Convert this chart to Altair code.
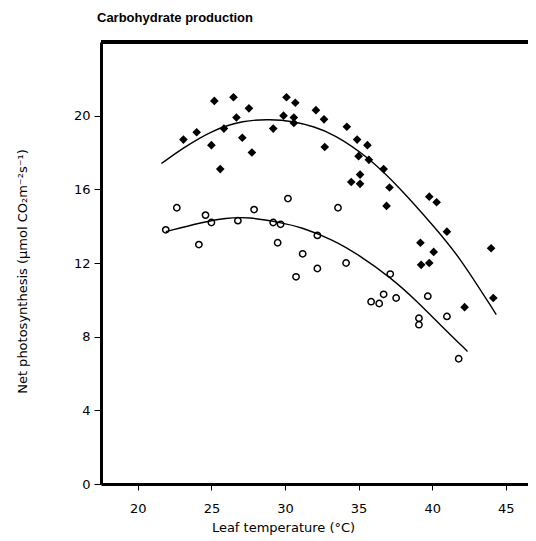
import altair as alt
import pandas as pd

# Filled symbols (upper series)
hi_x = [25.2, 26.5, 27.55, 30.1, 30.7, 32.1, 26.7, 25.85, 24.0, 23.1, 25.0, 27.1, 27.75, 25.6,
        29.2, 29.9, 30.6, 30.6, 32.65, 34.2, 32.7, 34.9, 35.6, 35.0, 35.7, 36.7, 37.1, 35.1,
        34.5, 35.1, 36.9, 39.8, 40.3, 41.0, 39.2, 40.1, 39.25, 39.8, 44.0, 44.15, 42.2]
hi_y = [20.8, 21.0, 20.4, 21.0, 20.7, 20.3, 19.9, 19.3, 19.1, 18.7, 18.4, 18.8, 18.0, 17.1,
        19.3, 20.0, 19.9, 19.6, 19.8, 19.4, 18.3, 18.7, 18.4, 17.8, 17.6, 17.1, 16.1, 16.8,
        16.4, 16.3, 15.1, 15.6, 15.3, 13.7, 13.1, 12.6, 11.9, 12.0, 12.8, 10.1, 9.6]

# Open symbols (lower series)
lo_x = [22.65, 24.6, 24.15, 21.9, 25.0, 26.8, 27.9, 30.2, 29.2, 29.7, 29.5, 31.2, 30.75, 32.2,
        33.6, 34.15, 37.15, 35.85, 36.4, 36.7, 37.55, 39.7, 39.1, 39.1, 41.0, 41.8, 32.2]
lo_y = [15.0, 14.6, 13.0, 13.8, 14.2, 14.3, 14.9, 15.5, 14.2, 14.1, 13.1, 12.5, 11.25, 11.7,
        15.0, 12.0, 11.4, 9.9, 9.8, 10.3, 10.1, 10.2, 9.0, 8.65, 9.1, 6.8, 13.5]

# Fitted curves
hi_cx = [21.6, 23.0, 25.0, 27.2, 29.0, 30.5, 32.0, 33.3, 35.6, 37.9, 40.1, 41.8, 44.35]
hi_cy = [17.4, 18.2, 19.2, 19.75, 19.8, 19.7, 19.4, 19.0, 17.8, 16.0, 14.0, 12.4, 9.2]
lo_cx = [21.9, 24.3, 26.0, 27.5, 29.7, 31.1, 33.3, 35.0, 37.2, 39.0, 40.6, 42.4]
lo_cy = [13.7, 14.2, 14.45, 14.5, 14.2, 13.95, 13.25, 12.45, 11.2, 9.9, 8.6, 7.2]

x_ticks = [20, 25, 30, 35, 40, 45]
y_ticks = [0, 4, 8, 12, 16, 20]

FONT = "DejaVu Sans"
PW, PH = 427, 442

xs = alt.Scale(domain=[17.5, 17.5 + PW / 14.72], nice=False, zero=False)
ys = alt.Scale(domain=[0, 24], nice=False)

xax = alt.Axis(values=x_ticks, title="Leaf temperature (°C)", tickSize=6, labelPadding=12,
               titleX=182, titleY=37, titleAnchor="middle", titleAlign="center")
yax = alt.Axis(values=y_ticks, title="Net photosynthesis (μmol CO₂m⁻²s⁻¹)", tickSize=7,
               labelPadding=4, titleX=-72, titleY=PH / 2 + 8, titleAngle=-90, titleAlign="center")

X = alt.X("x:Q", scale=xs, axis=xax)
Y = alt.Y("y:Q", scale=ys, axis=yax)

hi_df = pd.DataFrame({"x": hi_x, "y": hi_y})
lo_df = pd.DataFrame({"x": lo_x, "y": lo_y})
hc_df = pd.DataFrame({"x": hi_cx, "y": hi_cy})
lc_df = pd.DataFrame({"x": lo_cx, "y": lo_cy})

hi_pts = alt.Chart(hi_df).mark_point(shape="diamond", filled=True, color="black", size=75, opacity=1).encode(x=X, y=Y)
lo_pts = alt.Chart(lo_df).mark_point(shape="circle", filled=False, color="black", size=40,
                                      strokeWidth=1.5, opacity=1).encode(x=X, y=Y)
hi_line = alt.Chart(hc_df).mark_line(color="black", strokeWidth=1.4, interpolate="basis").encode(x=X, y=Y)
lo_line = alt.Chart(lc_df).mark_line(color="black", strokeWidth=1.4, interpolate="basis").encode(x=X, y=Y)
top = alt.Chart(hi_df).mark_rule(color="black", strokeWidth=3).encode(
    x=alt.value(0), x2=alt.value(PW + 10), y=alt.value(0))

chart = alt.layer(hi_line, lo_line, hi_pts, lo_pts, top).properties(
    width=PW, height=PH,
    autosize=alt.AutoSizeParams(type="none"),
    padding={"left": 93, "top": 34, "right": 0, "bottom": 56},
    title=alt.TitleParams("Carbohydrate production", anchor="start", frame="group", dx=-4, offset=16,
                          font="Liberation Sans", fontSize=13, fontWeight="bold", color="black"),
).configure_view(stroke=None).configure_axis(
    grid=False, domainColor="black", domainWidth=3, tickColor="black", tickWidth=1,
    labelFont=FONT, labelFontSize=13, labelColor="black",
    titleFont=FONT, titleFontSize=13, titleFontWeight="normal", titleColor="black",
)

chart.save("out.html", embed_options={"renderer": "svg", "actions": False})
